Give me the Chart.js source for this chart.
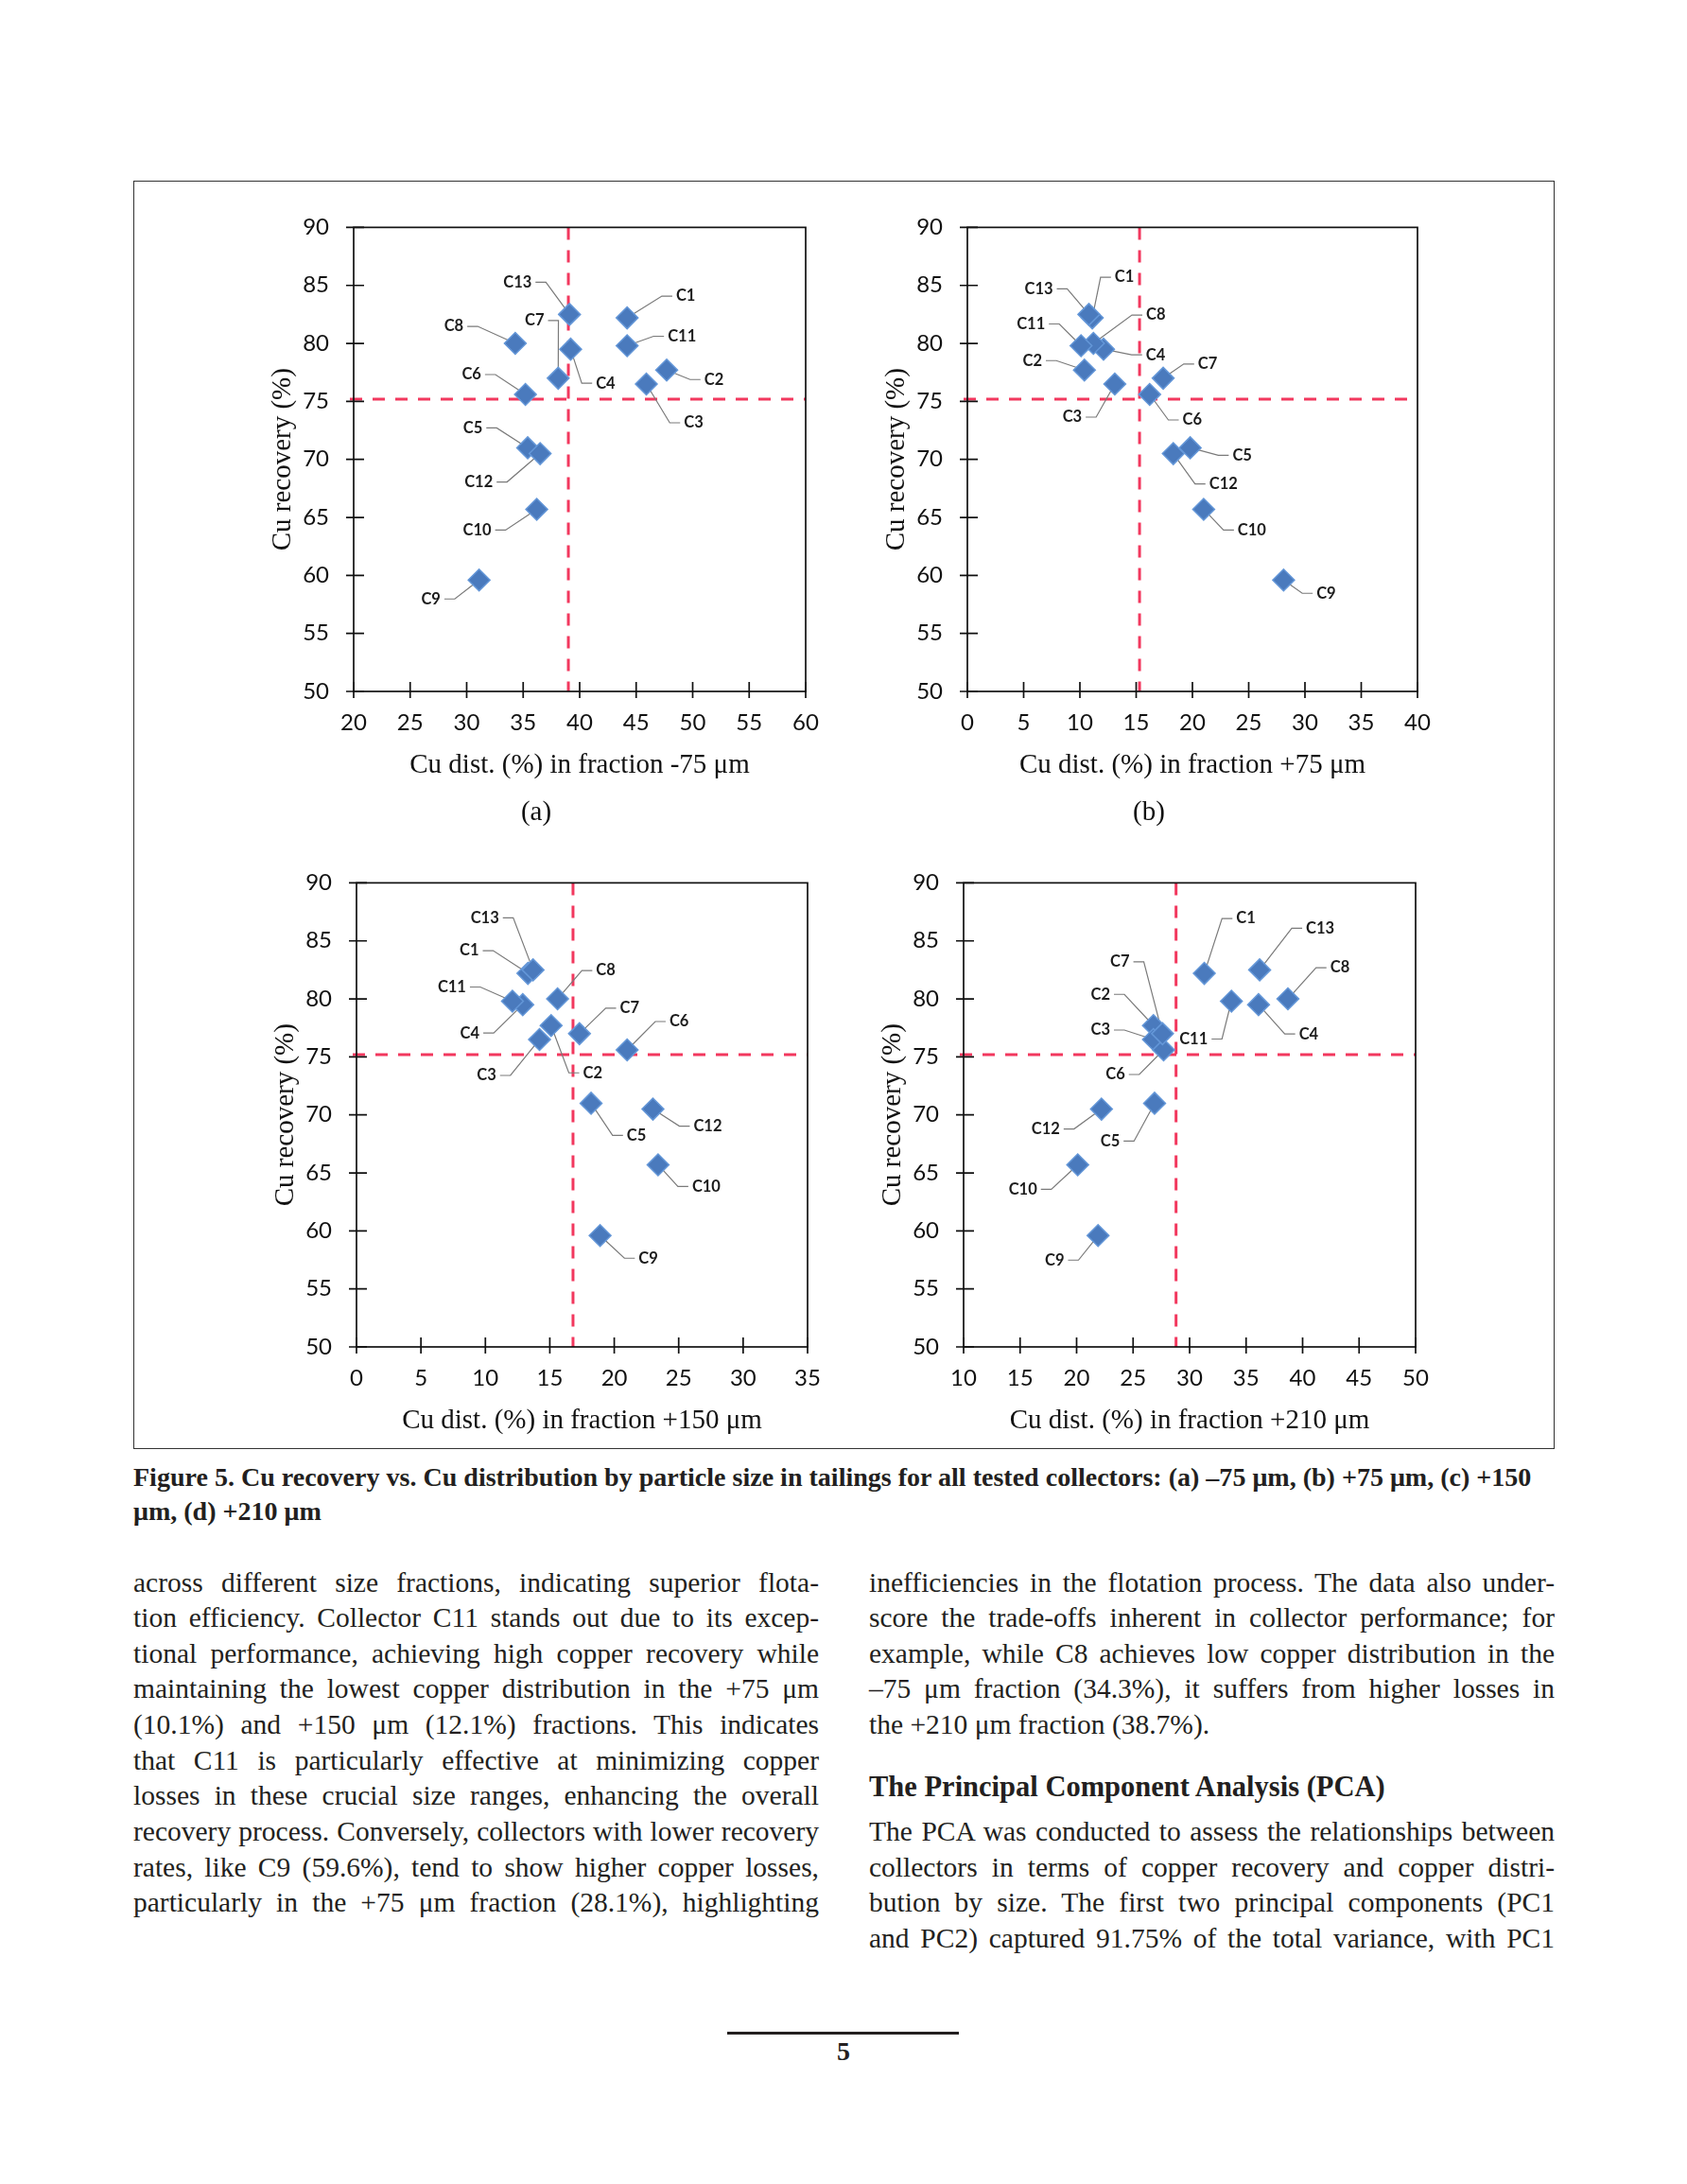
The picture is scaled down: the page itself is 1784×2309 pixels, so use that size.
<!DOCTYPE html>
<html>
<head>
<meta charset="utf-8">
<script src="https://cdn.jsdelivr.net/npm/chart.js@4.4.1/dist/chart.umd.min.js"></script>
<style>
  html, body { margin: 0; padding: 0; background: #fff; }
  body { position: relative; width: 1784px; height: 2309px; overflow: hidden; color: #231f20; }
  .frame { position: absolute; left: 141px; top: 191px; width: 1503px; height: 1341px; border: 1.5px solid #333; box-sizing: border-box; }
  canvas { position: absolute; }
  .ln { position: absolute; white-space: nowrap; font-family: "Liberation Serif", serif; font-size: 29.5px; line-height: 37.64px; }
  .b { font-weight: bold; }
  .sub { position: absolute; transform: translateX(-50%); font-family: "Liberation Serif", serif; font-size: 29px; line-height: 34px; color: #111; }
  .rule { position: absolute; left: 769px; top: 2148px; width: 245px; height: 3px; background: #231f20; }
</style>
</head>
<body>
<div class="frame"></div>
<canvas id="pa"></canvas>
<canvas id="pb"></canvas>
<canvas id="pc"></canvas>
<canvas id="pd"></canvas>
<div class="sub" style="left:567px; top:840px;">(a)</div>
<div class="sub" style="left:1215px; top:840px;">(b)</div>
<div class="rule"></div>
<script>
// collectors and Cu recovery (%)
const collectors = ['C1', 'C2', 'C3', 'C4', 'C5', 'C6', 'C7', 'C8', 'C9', 'C10', 'C11', 'C12', 'C13'];
const recovery = [82.2, 77.7, 76.5, 79.5, 71.0, 75.6, 77.0, 80.0, 59.6, 65.7, 79.8, 70.5, 82.5];

// Cu distribution (%) per size fraction, same collector order
const distMinus75 = [44.2, 47.7, 45.9, 39.2, 35.4, 35.2, 38.1, 34.3, 31.1, 36.2, 44.2, 36.5, 39.1];
const distPlus75 = [11.1, 10.4, 13.1, 12.1, 19.8, 16.2, 17.4, 11.2, 28.1, 21.0, 10.1, 18.3, 10.8];
const distPlus150 = [13.3, 15.1, 14.2, 12.9, 18.2, 21.0, 17.3, 15.6, 18.9, 23.4, 12.1, 23.0, 13.7];
const distPlus210 = [31.3, 26.8, 26.8, 36.1, 26.9, 27.7, 27.6, 38.7, 21.9, 20.1, 33.7, 22.2, 36.2];

// dashed reference lines (means)
const meanDist = [39.0, 15.3, 16.8, 28.8];
const meanRecovery = 75.2;

// axis ranges
const xRanges = [[20, 60], [0, 40], [0, 35], [10, 50]];
const yRange = [50, 90];
const xTitles = ['Cu dist. (%) in fraction -75 \u03bcm', 'Cu dist. (%) in fraction +75 \u03bcm',
                 'Cu dist. (%) in fraction +150 \u03bcm', 'Cu dist. (%) in fraction +210 \u03bcm'];

// label offsets in px from each point (C1..C13), one list per panel
const offsA = [[62,-23],[50,10],[50,41],[37,36],[-58,-21],[-57,-21],[-25,-61],[-65,-18],[-51,20],[-63,22],[58,-10],[-65,30],[-55,-34]];
const offsB = [[34,-43],[-55,-10],[-45,35],[55,6],[55,8],[45,27],[47,-15],[66,-30],[45,14],[51,22],[-53,-23],[53,32],[-53,-27]];
const offsC = [[-62,-24],[44,50],[-56,38],[-56,30],[48,34],[55,-30],[53,-27],[51,-30],[51,24],[51,23],[-64,-15],[58,18],[-51,-55]];
const offsD = [[44,-58],[-56,-33],[-56,-10],[53,31],[-47,40],[-51,26],[-45,-76],[55,-33],[-46,26],[-58,26],[-40,40],[-59,21],[64,-44]];

// plot boxes on the page: left, top, width, height
const boxes = [[374, 228, 478, 503], [1023, 228, 476, 503], [377, 921, 477, 503], [1019, 921, 478, 503]];

const Y_AXIS_W = 104, TOP_PAD = 28, RIGHT_PAD = 38, X_AXIS_H = 110;
const labelFont = 'bold 16.5px Lato, sans-serif';

// frame, cross ticks, dashed mean lines, leader lines and point labels
const panelDeco = {
  id: 'panelDeco',
  beforeDatasetsDraw(chart, args, opts) {
    const { ctx, chartArea: a, scales: { x, y } } = chart;
    ctx.save();
    // dashed mean lines
    const mx = x.getPixelForValue(opts.refX);
    const my = y.getPixelForValue(opts.refY);
    ctx.strokeStyle = '#f2385e';
    ctx.lineWidth = 3;
    ctx.setLineDash([13, 11]);
    ctx.beginPath();
    ctx.moveTo(mx, a.top); ctx.lineTo(mx, a.bottom);
    ctx.moveTo(a.left - 4, my); ctx.lineTo(a.right, my);
    ctx.stroke();
    ctx.setLineDash([]);

    // plot frame
    ctx.strokeStyle = '#111';
    ctx.lineWidth = 1.7;
    ctx.strokeRect(a.left, a.top, a.right - a.left, a.bottom - a.top);

    // cross ticks
    ctx.beginPath();
    x.ticks.forEach(t => {
      const px = x.getPixelForValue(t.value);
      ctx.moveTo(px, a.bottom - 10); ctx.lineTo(px, a.bottom + 7);
    });
    y.ticks.forEach(t => {
      const py = y.getPixelForValue(t.value);
      ctx.moveTo(a.left - 8, py); ctx.lineTo(a.left + 11, py);
    });
    ctx.stroke();

    // leader lines
    const meta = chart.getDatasetMeta(0);
    ctx.font = labelFont;
    ctx.strokeStyle = '#7a7a7a';
    ctx.lineWidth = 1.2;
    ctx.beginPath();
    meta.data.forEach((pt, i) => {
      const [dx, dy] = opts.offsets[i];
      const lx = pt.x + dx, ly = pt.y + dy;
      const w = ctx.measureText(collectors[i]).width;
      const dir = dx > 0 ? -1 : 1;
      const sx = lx + dir * (w / 2 + 4);
      const ex = sx + dir * 11;
      ctx.moveTo(sx, ly); ctx.lineTo(ex, ly); ctx.lineTo(pt.x, pt.y);
    });
    ctx.stroke();
    ctx.restore();
  },
  afterDatasetsDraw(chart, args, opts) {
    const { ctx } = chart;
    const meta = chart.getDatasetMeta(0);
    ctx.save();
    ctx.font = labelFont;
    ctx.fillStyle = '#1c1c1c';
    ctx.textAlign = 'center';
    ctx.textBaseline = 'middle';
    meta.data.forEach((pt, i) => {
      const [dx, dy] = opts.offsets[i];
      ctx.fillText(collectors[i], pt.x + dx, pt.y + dy);
    });
    ctx.restore();
  }
};

function makePanel(id, xs, k, offsets) {
  const [left, top, w, h] = boxes[k];
  const cv = document.getElementById(id);
  cv.width = Y_AXIS_W + w + RIGHT_PAD;
  cv.height = TOP_PAD + h + X_AXIS_H;
  cv.style.left = (left - Y_AXIS_W) + 'px';
  cv.style.top = (top - TOP_PAD) + 'px';

  return new Chart(cv, {
    type: 'scatter',
    data: {
      datasets: [{
        data: xs.map((v, i) => ({ x: v, y: recovery[i] })),
        pointStyle: 'rectRot',
        pointRadius: 11.5,
        pointHoverRadius: 11.5,
        pointBackgroundColor: '#4a7abd',
        pointBorderColor: '#6497d8',
        pointBorderWidth: 1.5
      }]
    },
    options: {
      responsive: false,
      animation: false,
      events: [],
      layout: { padding: { top: TOP_PAD, right: RIGHT_PAD, left: 0, bottom: 0 } },
      plugins: {
        legend: { display: false },
        tooltip: { enabled: false },
        panelDeco: { refX: meanDist[k], refY: meanRecovery, offsets: offsets }
      },
      scales: {
        x: {
          type: 'linear',
          min: xRanges[k][0],
          max: xRanges[k][1],
          grid: { display: false, drawTicks: false, tickLength: 0 },
          border: { display: false },
          ticks: { stepSize: 5, padding: 19, color: '#111', font: { family: 'Lato, sans-serif', size: 24 } },
          title: {
            display: true,
            text: xTitles[k],
            color: '#111',
            font: { family: '"Liberation Serif", serif', size: 29 },
            padding: { top: 0, bottom: 14 }
          },
          afterFit(s) { s.height = X_AXIS_H; }
        },
        y: {
          min: yRange[0],
          max: yRange[1],
          grid: { display: false, drawTicks: false, tickLength: 0 },
          border: { display: false },
          ticks: { stepSize: 5, padding: 26, color: '#111', font: { family: 'Lato, sans-serif', size: 24 } },
          title: {
            display: true,
            text: 'Cu recovery (%)',
            color: '#111',
            font: { family: '"Liberation Serif", serif', size: 29 },
            padding: { top: 12, bottom: 0 }
          },
          afterFit(s) { s.width = Y_AXIS_W; }
        }
      }
    },
    plugins: [panelDeco]
  });
}

makePanel('pa', distMinus75, 0, offsA);
makePanel('pb', distPlus75, 1, offsB);
makePanel('pc', distPlus150, 2, offsC);
makePanel('pd', distPlus210, 3, offsD);

// ---- page text ----
const captionLines = [
  'Figure 5. Cu recovery vs. Cu distribution by particle size in tailings for all tested collectors: (a) \u201375 \u03bcm, (b) +75 \u03bcm, (c) +150',
  '\u03bcm, (d) +210 \u03bcm'
];
const leftLines = [
  'across different size fractions, indicating superior flota-',
  'tion efficiency. Collector C11 stands out due to its excep-',
  'tional performance, achieving high copper recovery while',
  'maintaining the lowest copper distribution in the +75 \u03bcm',
  '(10.1%) and +150 \u03bcm (12.1%) fractions. This indicates',
  'that C11 is particularly effective at minimizing copper',
  'losses in these crucial size ranges, enhancing the overall',
  'recovery process. Conversely, collectors with lower recovery',
  'rates, like C9 (59.6%), tend to show higher copper losses,',
  'particularly in the +75 \u03bcm fraction (28.1%), highlighting'
];
const rightLines = [
  'inefficiencies in the flotation process. The data also under-',
  'score the trade-offs inherent in collector performance; for',
  'example, while C8 achieves low copper distribution in the',
  '\u201375 \u03bcm fraction (34.3%), it suffers from higher losses in',
  'the +210 \u03bcm fraction (38.7%).'
];
const headingText = 'The Principal Component Analysis (PCA)';
const rightLines2 = [
  'The PCA was conducted to assess the relationships between',
  'collectors in terms of copper recovery and copper distri-',
  'bution by size. The first two principal components (PC1',
  'and PC2) captured 91.75% of the total variance, with PC1'
];

const COL_W = 725, LINE0 = 1676.5, LH = 37.64;

function addLine(text, x, cy, opt) {
  const d = document.createElement('div');
  d.className = 'ln' + (opt.bold ? ' b' : '');
  if (opt.size) d.style.fontSize = opt.size + 'px';
  d.style.left = x + 'px';
  d.style.top = (cy - 22) + 'px';
  d.textContent = text;
  document.body.appendChild(d);
  if (opt.justify) {
    const w = d.getBoundingClientRect().width;
    const n = (text.match(/ /g) || []).length;
    if (n > 0) d.style.wordSpacing = ((COL_W - w) / n) + 'px';
  }
  return d;
}

// caption, sized so the first line spans the measured width
const cap = addLine(captionLines[0], 141, 1564.5, { bold: true, size: 28 });
const capSize = 28 * 1479 / cap.getBoundingClientRect().width;
cap.style.fontSize = capSize + 'px';
addLine(captionLines[1], 141, 1601, { bold: true, size: capSize });

leftLines.forEach((t, i) => addLine(t, 141, LINE0 + i * LH, { justify: true }));
rightLines.forEach((t, i) => addLine(t, 919, LINE0 + i * LH, { justify: i < rightLines.length - 1 }));
addLine(headingText, 919, 1893, { bold: true, size: 30.5 });
rightLines2.forEach((t, i) => addLine(t, 919, LINE0 + (i + 7) * LH, { justify: true }));

const pn = addLine('5', 0, 2172, { size: 28, bold: true });
pn.style.left = (892 - pn.getBoundingClientRect().width / 2) + 'px';
</script>
</body>
</html>
